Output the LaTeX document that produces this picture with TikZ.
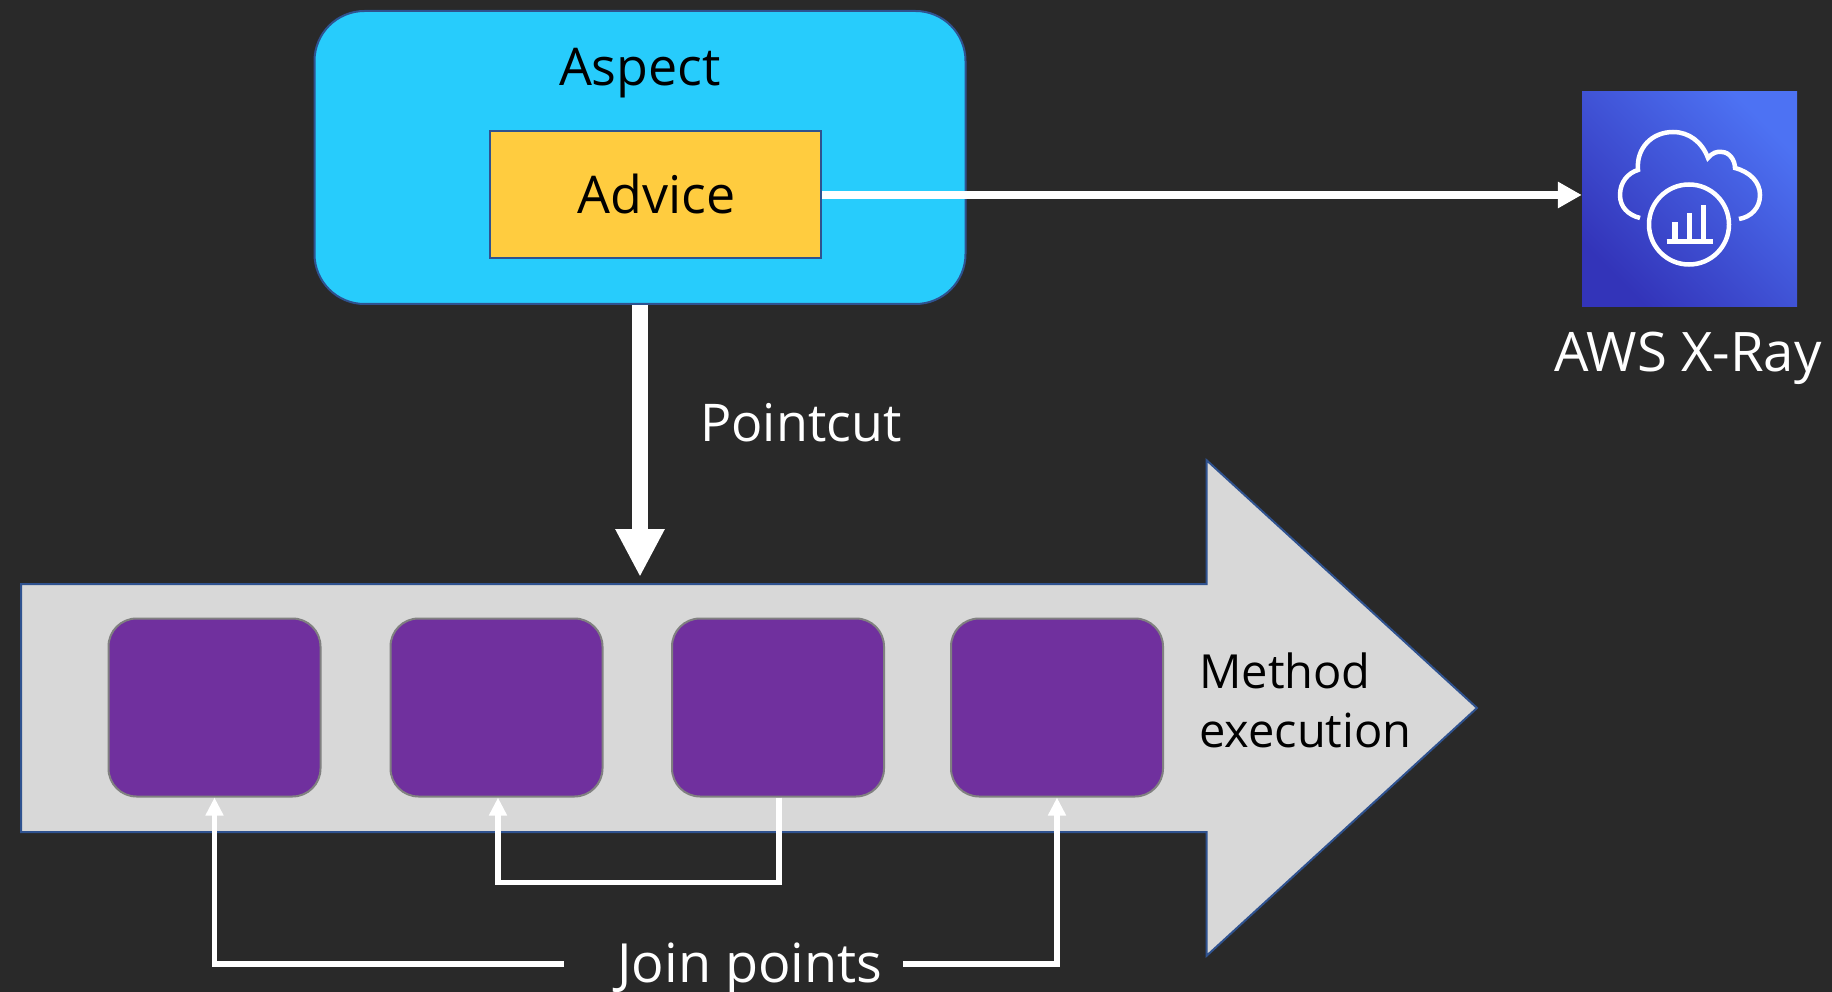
\documentclass[tikz,border=0pt]{standalone}
\usepackage{fontspec}
\setmainfont{Open Sans}
\usepackage{xcolor}
\usetikzlibrary{arrows.meta}
\usetikzlibrary{shapes.arrows}
\definecolor{bgdark}{HTML}{292929}
\definecolor{aspectblue}{HTML}{27CCFC}
\definecolor{advicegold}{HTML}{FFCC3F}
\definecolor{joinpurple}{HTML}{70309E}
\definecolor{flowgrey}{HTML}{D8D8D8}
\definecolor{edgeblue}{HTML}{2F528F}
\definecolor{xraydark}{HTML}{3334B9}
\definecolor{xraylight}{HTML}{4D72F3}
\tikzstyle{txt}=[font=\fontsize{52}{62}\selectfont,inner sep=0pt]
\tikzstyle{bigtxt}=[font=\fontsize{54.5}{64}\selectfont,inner sep=0pt]
\tikzstyle{joinbox}=[draw=gray,line width=2pt,fill=joinpurple,rounded corners=28pt,minimum width=212pt,minimum height=178pt]
\tikzstyle{wire}=[draw=white,line width=5.5pt,-{Triangle[length=18pt,width=17pt]}]
\tikzstyle{icon}=[draw=white,line width=4.5pt]
\begin{document}
\begin{tikzpicture}[x=1pt,y=-1pt]
\useasboundingbox[fill=bgdark] (0,0) rectangle (1832,992);
\node[draw=edgeblue,line width=2pt,fill=aspectblue,rounded corners=50pt,minimum width=651pt,minimum height=293pt] (aspect) at (640,157.5) {};
\node[draw=edgeblue,line width=2pt,fill=advicegold,minimum width=331pt,minimum height=127pt] (advice) at (655.5,195) {};
\node[txt,black,anchor=base] (aspectlabel) at (640,85.5) {Aspect};
\node[txt,black,anchor=base] (advicelabel) at (656.5,214) {Advice};
\node[shading=axis,bottom color=xraydark,top color=xraylight,shading angle=-45,minimum size=215pt,inner sep=0pt] (xray) at (1689.5,199) {};
\node[bigtxt,white,anchor=base] (xraylabel) at (1688,372) {AWS X-Ray};
\node[txt,white,anchor=base west] (pointcut) at (700,441) {Pointcut};
\node[single arrow,draw=edgeblue,line width=2pt,fill=flowgrey,minimum height=1456pt,inner xsep=0pt,inner ysep=123pt,single arrow head extend=123.75pt,single arrow tip angle=85,anchor=tail] (flow) at (20,708) {};
\node[joinbox] (box1) at (214.5,707.5) {};
\node[joinbox] (box2) at (496.5,707.5) {};
\node[joinbox] (box3) at (778,707.5) {};
\node[joinbox] (box4) at (1057,707.5) {};
\node[txt,black,font=\fontsize{47}{59}\selectfont,align=left,anchor=west] (method) at (1199,700) {Method\\execution};
\node[bigtxt,white,font=\fontsize{54}{64}\selectfont,anchor=base] (joinlabel) at (750,982) {Join points};
\coordinate (pointcutend) at (640,577);
\coordinate (joinleft) at (564,964);
\coordinate (joinright) at (903,964);
\draw[draw=white,line width=16pt,-{Triangle[length=48pt,width=46pt]}] (aspect.south) -- (pointcutend);
\draw[wire,line width=7.5pt,-{Triangle[length=24pt,width=25pt]}] (advice.east) -- (advice.east -| xray.west);
\draw[wire] (joinleft) -| (box1.south);
\draw[wire] ([xshift=1pt]box3.south) -- ++(0,85) -| ([xshift=1.5pt]box2.south);
\draw[wire] (joinright) -| (box4.south);
\draw[icon] (1640,218) .. controls (1628,215) and (1620,207) .. (1620,195) .. controls (1620,182) and (1628,173) .. (1638,170) .. controls (1636,148) and (1652,132) .. (1673,132) .. controls (1689,132) and (1702,142) .. (1708,158) .. controls (1712,153) and (1717,151) .. (1722,152) .. controls (1729,152) and (1735,160) .. (1735,168) .. controls (1750,172) and (1760,182) .. (1760,195) .. controls (1760,208) and (1751,217) .. (1739,219);
\draw[icon] (1689,224.5) circle (40);
\draw[icon,line width=5pt] (1666.7,241.7) -- (1712.7,241.7);
\draw[icon,line width=5.5pt] (1675,241.7) -- (1675,221.7);
\draw[icon,line width=5.5pt] (1689.7,241.7) -- (1689.7,213.3);
\draw[icon,line width=5.5pt] (1703.7,241.7) -- (1703.7,205);
\end{tikzpicture}
\end{document}
